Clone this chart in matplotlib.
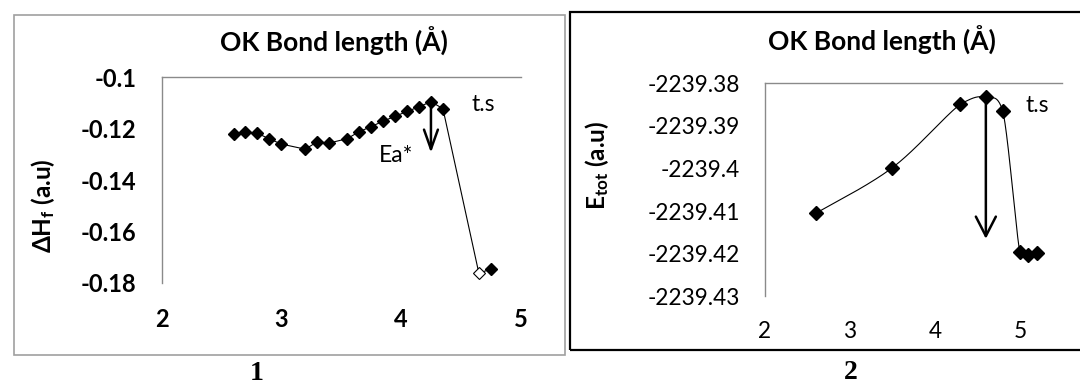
import numpy as np
import matplotlib
matplotlib.use('Agg')
import matplotlib.pyplot as plt
from matplotlib.patches import Rectangle

plt.rcParams['font.family'] = ['Lato', 'DejaVu Sans']
plt.rcParams['mathtext.default'] = 'regular'

# 图1：生成焓随 O-K 键长的变化
bond_1 = [2.6, 2.7, 2.8, 2.9, 3.0, 3.2, 3.3, 3.4, 3.55, 3.65, 3.75, 3.85,
          3.95, 4.05, 4.15, 4.25, 4.35, 4.65, 4.75]
dh_1 = [-0.1222, -0.1212, -0.1218, -0.1240, -0.1260, -0.1280, -0.1251, -0.1256,
        -0.1239, -0.1212, -0.1192, -0.1171, -0.1152, -0.1133, -0.1115, -0.1095,
        -0.1122, -0.1762, -0.1748]
hollow_1 = 17           # 空心点的下标
ts_1 = 15               # 过渡态（最高点）
arrow_end_1 = -0.1294   # 箭头终点

# 图2：总能量
bond_2 = [2.6, 3.5, 4.3, 4.6, 4.8, 5.0, 5.1, 5.2]
etot_2 = [-2239.4105, -2239.3998, -2239.3849, -2239.3833, -2239.3865,
          -2239.4197, -2239.4203, -2239.4199]
ts_2 = 3
arrow_end_2 = -2239.4165

xticks = [2, 3, 4, 5]
yticks_1 = [-0.18, -0.16, -0.14, -0.12, -0.1]
ylabels_1 = ['-0.18', '-0.16', '-0.14', '-0.12', '-0.1']
yticks_2 = [-2239.43, -2239.42, -2239.41, -2239.40, -2239.39, -2239.38]
ylabels_2 = ['-2239.43', '-2239.42', '-2239.41', '-2239.4', '-2239.39', '-2239.38']

axis_gray = '#8a8a8a'


# Excel 风格的平滑曲线（Catmull-Rom -> Bezier），控制点限制过冲
def smooth_line(xs, ys, n=40):
    p = np.column_stack([xs, ys]).astype(float)
    out = []
    for i in range(len(p) - 1):
        p0 = p[i - 1] if i > 0 else p[i]
        p1, p2 = p[i], p[i + 1]
        p3 = p[i + 2] if i + 2 < len(p) else p[i + 1]
        c1 = p1 + (p2 - p0) / 6
        c2 = p2 - (p3 - p1) / 6
        tol = 0.25 * abs(p2[1] - p1[1])
        lo, hi = min(p1[1], p2[1]) - tol, max(p1[1], p2[1]) + tol
        c1[1] = np.clip(c1[1], lo, hi)
        c2[1] = np.clip(c2[1], lo, hi)
        t = np.linspace(0, 1, n)[:, None]
        seg = (1 - t)**3 * p1 + 3 * (1 - t)**2 * t * c1 + 3 * (1 - t) * t**2 * c2 + t**3 * p2
        out.append(seg if i == 0 else seg[1:])
    out = np.vstack(out)
    return out[:, 0], out[:, 1]


def style_axes(ax):
    for s in ['bottom', 'right']:
        ax.spines[s].set_visible(False)
    for s in ['top', 'left']:
        ax.spines[s].set_color(axis_gray)
        ax.spines[s].set_linewidth(1.0)
    ax.tick_params(length=0)
    ax.tick_params(axis='x', pad=18)
    ax.tick_params(axis='y', pad=18)
    ax.set_facecolor('none')


fig = plt.figure(figsize=(10.8, 3.85), dpi=100)

# 外框
fig.patches.append(Rectangle((13.5 / 1080, 1 - 354.5 / 385), (565 - 13.5) / 1080, (354.5 - 15) / 385,
                             transform=fig.transFigure, fill=False, edgecolor='#a0a0a0', lw=1.2))
fig.patches.append(Rectangle((570 / 1080, 1 - 350.3 / 385), (1090 - 570) / 1080, (350.3 - 11.7) / 385,
                             transform=fig.transFigure, fill=False, edgecolor='black', lw=1.6))

# ---- 图1 ----
ax1 = fig.add_axes([161.7 / 1080, 1 - 282.7 / 385, 359 / 1080, 205.4 / 385])
style_axes(ax1)
ax1.plot(bond_1, dh_1, color='black', lw=0.8, zorder=2)
filled = [i for i in range(len(bond_1)) if i != hollow_1]
ax1.plot([bond_1[i] for i in filled], [dh_1[i] for i in filled], 'D', color='black', ms=5.8, zorder=3)
ax1.plot(bond_1[hollow_1], dh_1[hollow_1], 'D', mfc='white', mec='black', mew=0.8, ms=5.8, zorder=3)
ax1.set_xlim(2, 5)
ax1.set_ylim(-0.18, -0.1)
ax1.set_xticks(xticks)
ax1.set_xticklabels([str(v) for v in xticks], fontsize=17, fontweight='bold')
ax1.set_yticks(yticks_1)
ax1.set_yticklabels(ylabels_1, fontsize=17, fontweight='bold')
ax1.annotate('', xy=(bond_1[ts_1], arrow_end_1), xytext=(bond_1[ts_1], dh_1[ts_1]),
             arrowprops=dict(arrowstyle='->,head_length=1.4,head_width=0.5', lw=1.8,
                             color='black', shrinkA=0, shrinkB=0, mutation_scale=10))
ax1.text(3.96, -0.1303, 'Ea*', fontsize=16.5, ha='center', va='center')
ax1.text(4.69, -0.1107, 't.s', fontsize=16.5, ha='center', va='center')

fig.text(334 / 1080, 1 - 41.7 / 385, 'OK Bond length (Å)', fontsize=19, fontweight='bold',
         ha='center', va='center')
fig.text(43 / 1080, 1 - 206 / 385, 'ΔH$_\\mathregular{f}$ (a.u)', fontsize=17.5, fontweight='bold',
         rotation=90, ha='center', va='center')

# ---- 图2 ----
ax2 = fig.add_axes([765 / 1080, 1 - 296.3 / 385, 297.3 / 1080, 213 / 385])
style_axes(ax2)
sx, sy = smooth_line(bond_2, etot_2)
ax2.plot(sx, sy, color='black', lw=0.8, zorder=2)
ax2.plot(bond_2, etot_2, 'D', color='black', ms=7, zorder=3)
ax2.set_xlim(2, 5.5)
ax2.set_ylim(-2239.43, -2239.38)
ax2.set_xticks(xticks)
ax2.set_xticklabels([str(v) for v in xticks], fontsize=16.3)
ax2.set_yticks(yticks_2)
ax2.set_yticklabels(ylabels_2, fontsize=16.3)
ax2.annotate('', xy=(bond_2[ts_2], arrow_end_2), xytext=(bond_2[ts_2], etot_2[ts_2]),
             arrowprops=dict(arrowstyle='->,head_length=1.4,head_width=0.72', lw=1.8,
                             color='black', shrinkA=0, shrinkB=0, mutation_scale=10))
ax2.text(5.21, -2239.3853, 't.s', fontsize=16.5, ha='center', va='center')

fig.text(882 / 1080, 1 - 40 / 385, 'OK Bond length (Å)', fontsize=19, fontweight='bold',
         ha='center', va='center')
fig.text(597 / 1080, 1 - 165 / 385, 'E$_\\mathregular{tot}$ (a.u)', fontsize=17.5, fontweight='bold',
         rotation=90, ha='center', va='center')

# 图号
fig.text(256.7 / 1080, 1 - 373.7 / 385, '1', family='Liberation Serif', fontsize=20,
         fontweight='bold', ha='center', va='center')
fig.text(850.7 / 1080, 1 - 372.5 / 385, '2', family='Liberation Serif', fontsize=20,
         fontweight='bold', ha='center', va='center')

fig.savefig('out.png', dpi=100)
